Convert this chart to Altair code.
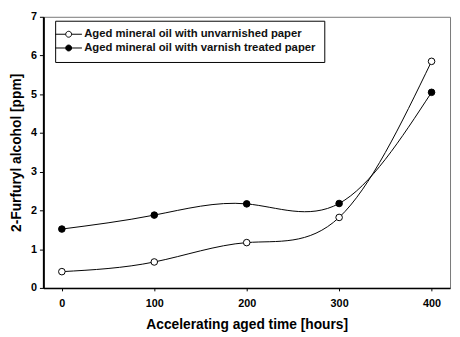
import altair as alt
import pandas as pd

hours = [0, 100, 200, 300, 400]
unvarnished = [0.42, 0.67, 1.17, 1.82, 5.85]
varnished = [1.52, 1.88, 2.17, 2.18, 5.05]
s1 = "Aged mineral oil with unvarnished paper"
s2 = "Aged mineral oil with varnish treated paper"

df = pd.DataFrame({
    "hours": hours * 2,
    "ppm": unvarnished + varnished,
    "series": [s1] * 5 + [s2] * 5,
})

x = alt.X("hours:Q", scale=alt.Scale(domain=[-20, 420], nice=False),
          axis=alt.Axis(values=hours, title="Accelerating aged time [hours]"))
y = alt.Y("ppm:Q", scale=alt.Scale(domain=[0, 7], nice=False),
          axis=alt.Axis(values=list(range(8)), title="2-Furfuryl alcohol [ppm]"))

lines = alt.Chart(df).mark_line(interpolate="natural", color="black", strokeWidth=1).encode(
    x=x, y=y, detail="series:N")

symbol = "M-2.7,0L-0.6,0M0.6,0L2.7,0M-0.6,0A0.6,0.6 0 1,1 0.6,0A0.6,0.6 0 1,1 -0.6,0Z"

points = alt.Chart(df).mark_point(filled=False, size=45, stroke="black", strokeWidth=1, opacity=1).encode(
    x=x, y=y,
    fill=alt.Fill("series:N", scale=alt.Scale(domain=[s1, s2], range=["white", "black"]),
                  legend=alt.Legend(title=None, orient="none", legendX=12, legendY=4,
                                    symbolType=symbol, symbolSize=100, symbolStrokeColor="black",
                                    symbolStrokeWidth=1, strokeColor="black", padding=8,
                                    fillColor="white", labelFont="Liberation Sans",
                                    labelFontWeight="bold", labelFontSize=11.5, rowPadding=1,
                                    labelLimit=400, labelOffset=10, labelColor="#111")),
)

chart = (lines + points).properties(
    width=414, height=276,
    autosize=alt.AutoSizeParams(type="none"),
    padding={"left": 36, "top": 6, "right": 2, "bottom": 47},
).configure_view(stroke="#777", strokeWidth=1).configure_axis(
    labelFont="Liberation Sans", titleFont="Liberation Sans",
    labelFontWeight="bold", titleFontWeight="bold",
    labelFontSize=11, titleFontSize=14, labelColor="black", titleColor="black",
    domainColor="black", tickColor="black", grid=False, tickSize=4,
).configure_axisY(domainWidth=2, titlePadding=7, labelPadding=3).configure_axisX(
    domainWidth=1.5, titlePadding=9, labelPadding=7, tickSize=3)

chart.save("out.html", embed_options={"renderer": "svg", "actions": False})
